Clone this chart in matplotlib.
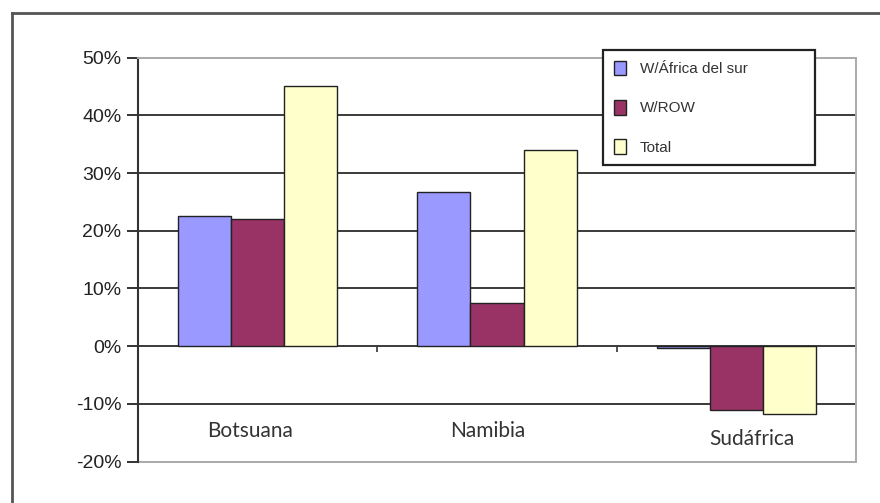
import matplotlib
matplotlib.use("Agg")
import matplotlib.pyplot as plt
from matplotlib.lines import Line2D
import numpy as np

categories = ["Botsuana", "Namibia", "Sudáfrica"]
series_names = ["W/África del sur", "W/ROW", "Total"]
w_africa = [22.6, 26.7, -0.4]
w_row = [22.1, 7.5, -11.1]
total = [45.1, 34.0, -11.7]
yticks = [-20, -10, 0, 10, 20, 30, 40, 50]
ytick_labels = ["-20%", "-10%", "0%", "10%", "20%", "30%", "40%", "50%"]

colors = ["#9999FF", "#993366", "#FFFFCC"]

W, H = 880, 503
fig = plt.figure(figsize=(W / 100, H / 100), dpi=100)
fig.patch.set_facecolor("white")

# outer chart frame (extends past right/bottom edges)
fig.add_artist(Line2D([12 / W, 12 / W], [1 - 13 / H, 0], transform=fig.transFigure,
                      color="#555555", lw=2))
fig.add_artist(Line2D([12 / W, 1], [1 - 13 / H, 1 - 13 / H], transform=fig.transFigure,
                      color="#555555", lw=2))

left, right, top, bottom = 138, 856, 57.7, 461.5
ax = fig.add_axes([left / W, 1 - bottom / H, (right - left) / W, (bottom - top) / H])

x = np.arange(len(categories))
bw = 0.222
series = [w_africa, w_row, total]
for i, (vals, c, name) in enumerate(zip(series, colors, series_names)):
    ax.bar(x + (i - 1) * bw, vals, width=bw, color=c, edgecolor="#222222",
           linewidth=1.0, zorder=3, label=name)

ax.set_xlim(-0.5, 2.5)
ax.set_ylim(-20, 50)

for yv in yticks[1:-1]:
    if yv != 0:
        ax.axhline(yv, color="#3a3a3a", lw=1.4, zorder=1)
ax.axhline(-20, color="#aaaaaa", lw=1.4, zorder=1, clip_on=False)

ax.set_yticks(yticks)
ax.set_yticklabels(ytick_labels, fontsize=14, family="Liberation Sans", color="#222222")
ax.tick_params(axis="y", direction="out", length=8, width=1.4, color="#333333", pad=4)
ax.set_xticks([-0.5, 0.5, 1.5, 2.5])
ax.set_xticklabels([])
ax.tick_params(axis="x", direction="out", length=4, width=1.2, color="#333333")

for s in ["top", "right"]:
    ax.spines[s].set_color("#aaaaaa")
    ax.spines[s].set_linewidth(1.4)
ax.spines["bottom"].set_position(("data", 0))
ax.spines["bottom"].set_color("#3a3a3a")
ax.spines["bottom"].set_linewidth(1.4)
ax.spines["bottom"].set_zorder(2)
ax.spines["left"].set_color("#333333")
ax.spines["left"].set_linewidth(1.5)

# category labels placed inside the plot area
label_pos = [(-0.03, -14.7), (-0.04, -14.7), (0.065, -16.1)]
for i, (cat, (dx, yv)) in enumerate(zip(categories, label_pos)):
    ax.text(x[i] + dx, yv, cat, ha="center", va="center", fontsize=15,
            family="Lato", color="#333333", zorder=4)

# legend
lx0, ly0, lx1, ly1 = 603, 50, 815, 167
leg = ax.legend(loc="upper left",
                bbox_to_anchor=(lx0 / W, 1 - ly1 / H, (lx1 - lx0) / W, (ly1 - ly0) / H),
                bbox_transform=fig.transFigure, mode="expand",
                prop={"family": "Liberation Sans", "size": 11},
                labelcolor="#333333", frameon=True, fancybox=False, shadow=False,
                edgecolor="#222222", framealpha=1, handlelength=0.8, handleheight=1.1,
                labelspacing=1.55, borderpad=0.7, handletextpad=0.9, borderaxespad=0)
leg.get_frame().set_linewidth(1.6)
leg.set_zorder(10)

fig.savefig("out.png", dpi=100, facecolor="white")
